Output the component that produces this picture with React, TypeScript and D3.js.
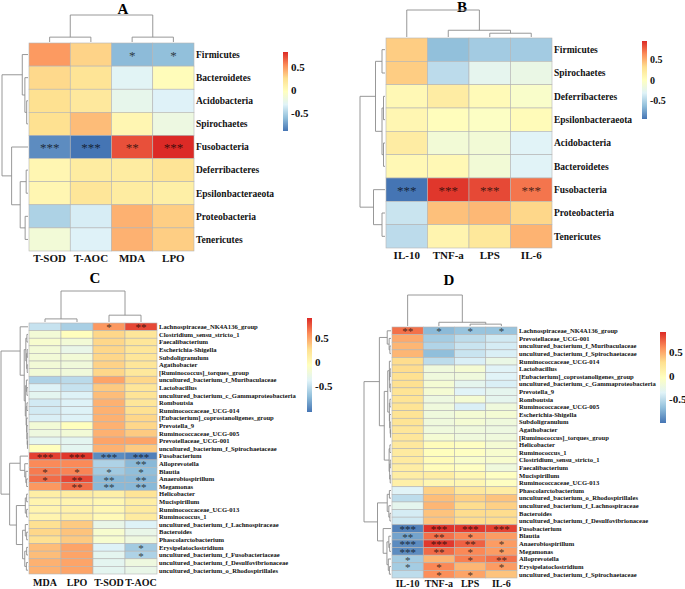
import * as d3 from 'd3';

// ---- Panel A: phyla vs oxidative markers ----
const rowsA = ["Firmicutes", "Bacteroidetes", "Acidobacteria", "Spirochaetes", "Fusobacteria",
  "Deferribacteres", "Epsilonbacteraeota", "Proteobacteria", "Tenericutes"];
const colsA = ["T-SOD", "T-AOC", "MDA", "LPO"];
const valuesA = [
  [0.5, 0.3, -0.62, -0.6],
  [0.28, 0.22, -0.3, 0.0],
  [0.25, 0.18, -0.25, -0.32],
  [0.25, 0.38, 0.05, -0.2],
  [-0.8, -0.89, 0.72, 0.83],
  [0.05, 0.15, 0.15, 0.22],
  [0.05, 0.2, 0.15, 0.12],
  [-0.5, -0.35, 0.42, 0.32],
  [-0.15, -0.32, 0.42, 0.32],
];
const starsA = [
  ["", "", "*", "*"], ["", "", "", ""], ["", "", "", ""], ["", "", "", ""],
  ["***", "***", "**", "***"], ["", "", "", ""], ["", "", "", ""], ["", "", "", ""], ["", "", "", ""],
];

// ---- Panel B: phyla vs inflammatory markers ----
const rowsB = ["Firmicutes", "Spirochaetes", "Deferribacteres", "Epsilonbacteraeota", "Acidobacteria",
  "Bacteroidetes", "Fusobacteria", "Proteobacteria", "Tenericutes"];
const colsB = ["IL-10", "TNF-a", "LPS", "IL-6"];
const valuesB = [
  [0.4, -0.62, -0.55, -0.55],
  [0.4, -0.45, -0.25, -0.2],
  [0.08, 0.2, 0.06, -0.05],
  [0.1, 0.03, -0.02, 0.05],
  [0.2, -0.12, -0.12, -0.3],
  [0.08, 0.08, -0.12, -0.3],
  [-0.94, 0.92, 0.86, 0.72],
  [-0.4, 0.45, 0.48, 0.36],
  [-0.45, 0.12, 0.25, 0.5],
];
const starsB = [
  ["", "", "", ""], ["", "", "", ""], ["", "", "", ""], ["", "", "", ""], ["", "", "", ""], ["", "", "", ""],
  ["***", "***", "***", "***"], ["", "", "", ""], ["", "", "", ""],
];

// ---- Panel C: genera vs oxidative markers ----
const rowsC = ["Lachnospiraceae_NK4A136_group", "Clostridium_sensu_stricto_1", "Faecalibacterium",
  "Escherichia-Shigella", "Subdoligranulum", "Agathobacter", "[Ruminococcus]_torques_group",
  "uncultured_bacterium_f_Muribaculaceae", "Lactobacillus", "uncultured_bacterium_c_Gammaproteobacteria",
  "Romboutsia", "Ruminococcaceae_UCG-014", "[Eubacterium]_coprostanoligenes_group", "Prevotella_9",
  "Ruminococcaceae_UCG-005", "Prevotellaceae_UCG-001", "uncultured_bacterium_f_Spirochaetaceae",
  "Fusobacterium", "Alloprevotella", "Blautia", "Anaerobiospirillum", "Megamonas", "Helicobacter",
  "Mucispirillum", "Ruminococcaceae_UCG-013", "Ruminococcus_1", "uncultured_bacterium_f_Lachnospiraceae",
  "Bacteroides", "Phascolarctobacterium", "Erysipelatoclostridium", "uncultured_bacterium_f_Fusobacteriaceae",
  "uncultured_bacterium_f_Desulfovibrionaceae", "uncultured_bacterium_o_Rhodospirillales"];
const colsC = ["MDA", "LPO", "T-SOD", "T-AOC"];
const valuesC = [
  [-0.5, -0.62, 0.55, 0.82],
  [-0.2, -0.05, 0.3, 0.2],
  [-0.15, -0.2, 0.3, 0.2],
  [-0.2, -0.3, 0.3, 0.2],
  [-0.2, -0.2, 0.3, 0.2],
  [-0.2, -0.22, 0.32, 0.2],
  [-0.2, -0.22, 0.3, 0.18],
  [-0.6, -0.55, 0.5, 0.3],
  [-0.4, -0.5, 0.35, 0.2],
  [-0.35, -0.4, 0.4, 0.22],
  [-0.45, -0.4, 0.45, 0.2],
  [-0.45, -0.4, 0.45, 0.25],
  [-0.42, -0.4, 0.45, 0.3],
  [-0.2, -0.05, 0.45, 0.3],
  [-0.25, -0.2, 0.45, 0.35],
  [-0.35, -0.35, 0.5, 0.5],
  [-0.05, -0.35, 0.45, 0.35],
  [0.85, 0.88, -0.95, -1.0],
  [0.6, 0.6, -0.6, -0.75],
  [0.65, 0.62, -0.65, -0.72],
  [0.7, 0.82, -0.75, -0.75],
  [0.55, 0.7, -0.75, -0.75],
  [0.12, 0.15, 0.1, 0.22],
  [0.05, 0.05, 0.02, 0.12],
  [0.05, 0.08, 0.02, 0.15],
  [0.05, 0.1, 0.0, 0.15],
  [0.25, 0.35, -0.3, -0.4],
  [0.3, 0.38, -0.15, -0.3],
  [0.25, 0.35, -0.15, -0.25],
  [0.4, 0.5, -0.4, -0.65],
  [0.4, 0.5, -0.35, -0.6],
  [0.45, 0.5, -0.35, -0.25],
  [0.45, 0.5, -0.35, -0.3],
];
const starsC: Record<number, string[]> = {
  0: ["", "", "*", "**"],
  17: ["***", "***", "***", "***"],
  18: ["", "", "", "**"],
  19: ["*", "*", "*", "*"],
  20: ["*", "**", "**", "**"],
  21: ["", "**", "**", "**"],
  29: ["", "", "", "*"],
  30: ["", "", "", "*"],
};

// ---- Panel D: genera vs inflammatory markers ----
const rowsD = ["Lachnospiraceae_NK4A136_group", "Prevotellaceae_UCG-001", "uncultured_bacterium_f_Muribaculaceae",
  "uncultured_bacterium_f_Spirochaetaceae", "Ruminococcaceae_UCG-014", "Lactobacillus",
  "[Eubacterium]_coprostanoligenes_group", "uncultured_bacterium_c_Gammaproteobacteria", "Prevotella_9",
  "Romboutsia", "Ruminococcaceae_UCG-005", "Escherichia-Shigella", "Subdoligranulum", "Agathobacter",
  "[Ruminococcus]_torques_group", "Helicobacter", "Ruminococcus_1", "Clostridium_sensu_stricto_1",
  "Faecalibacterium", "Mucispirillum", "Ruminococcaceae_UCG-013", "Phascolarctobacterium",
  "uncultured_bacterium_o_Rhodospirillales", "uncultured_bacterium_f_Lachnospiraceae", "Bacteroides",
  "uncultured_bacterium_f_Desulfovibrionaceae", "Fusobacterium", "Blautia", "Anaerobiospirillum",
  "Megamonas", "Alloprevotella", "Erysipelatoclostridium", "uncultured_bacterium_f_Spirochaetaceae"];
const colsD = ["IL-10", "TNF-a", "LPS", "IL-6"];
const valuesD = [
  [0.7, -0.7, -0.65, -0.65],
  [0.5, -0.6, -0.5, -0.42],
  [0.45, -0.55, -0.45, -0.4],
  [0.45, -0.68, -0.45, -0.38],
  [0.3, -0.5, -0.38, -0.25],
  [0.3, -0.2, -0.15, -0.35],
  [0.28, -0.2, -0.2, -0.35],
  [0.28, -0.15, -0.3, -0.38],
  [0.25, -0.15, -0.35, -0.3],
  [0.25, -0.22, -0.15, -0.3],
  [0.25, -0.2, -0.38, -0.2],
  [0.25, -0.2, -0.15, -0.15],
  [0.25, -0.2, -0.15, -0.2],
  [0.22, -0.2, -0.2, -0.22],
  [0.22, -0.15, -0.2, -0.2],
  [0.2, 0.0, -0.05, -0.15],
  [0.18, -0.02, -0.05, -0.12],
  [0.18, 0.0, -0.1, -0.12],
  [0.15, 0.0, -0.05, -0.2],
  [0.15, 0.15, 0.05, -0.05],
  [0.12, 0.05, 0.05, -0.05],
  [-0.35, 0.35, 0.2, 0.15],
  [-0.5, 0.42, 0.35, 0.4],
  [-0.3, 0.45, 0.3, 0.35],
  [-0.4, 0.4, 0.3, 0.3],
  [-0.42, 0.4, 0.3, 0.3],
  [-0.95, 0.9, 0.88, 0.85],
  [-0.8, 0.7, 0.62, 0.55],
  [-0.9, 0.88, 0.75, 0.55],
  [-0.9, 0.72, 0.62, 0.55],
  [-0.6, 0.45, 0.65, 0.7],
  [-0.6, 0.62, 0.45, 0.55],
  [-0.5, 0.6, 0.52, 0.4],
];
const starsD: Record<number, string[]> = {
  0: ["**", "*", "*", "*"],
  26: ["***", "***", "***", "***"],
  27: ["**", "**", "*", ""],
  28: ["***", "***", "**", "*"],
  29: ["***", "**", "*", "*"],
  30: ["*", "", "*", "**"],
  31: ["*", "*", "", "*"],
  32: ["", "*", "*", ""],
};

// cluster trees: leaf = row/col index, node = [merge height, left, right]
type Tree = number | [number, Tree, Tree];
const rowTreeA: Tree = [1, [0.22, 0, [0.12, 1, [0.05, 2, 3]]], [0.63, 4, [0.3, [0.07, 5, 6], [0.11, 7, 8]]]];
const colTreeA: Tree = [1, [0.18, 0, 1], [0.18, 2, 3]];
const rowTreeB: Tree = [1, [0.38, [0.12, 0, 1], [0.12, [0.06, 2, 3], [0.06, 4, 5]]], [0.46, 6, [0.12, 7, 8]]];
const colTreeB: Tree = [1, 0, [0.25, 1, [0.14, 2, 3]]];
const rowTreeC: Tree = [1,
  [0.29, 0, [0.14,
    [0.08, [0.04, 1, 2], [0.05, [0.03, 3, 4], [0.03, 5, 6]]],
    [0.1, [0.06, 7, [0.04, 8, 9]], [0.07, [0.04, 10, 11], [0.05, 12, [0.04, 13, [0.03, 14, [0.02, 15, 16]]]]]]]],
  [0.68,
    [0.29, 17, [0.12, 18, [0.08, 19, [0.05, 20, 21]]]],
    [0.43, [0.1, [0.05, 22, 23], [0.05, 24, 25]], [0.2, [0.1, 26, [0.05, 27, 28]], [0.12, [0.05, 29, 30], [0.06, 31, 32]]]]]];
const colTreeC: Tree = [1, [0.1, 0, 1], [0.22, 2, 3]];
const rowTreeD: Tree = [1,
  [0.43,
    [0.14, 0, [0.07, 1, [0.04, 2, 3]]],
    [0.25,
      [0.12, [0.06, 4, [0.05, [0.03, 5, 6], [0.03, 7, 8]]], [0.06, [0.04, 9, 10], [0.05, 11, [0.03, 12, [0.02, 13, 14]]]]],
      [0.07, [0.04, 15, 16], [0.05, [0.03, 17, 18], [0.03, 19, 20]]]]],
  [0.5,
    [0.14, [0.06, 21, 22], [0.08, 23, [0.04, 24, 25]]],
    [0.29, 26, [0.15, [0.08, 27, [0.05, 28, 29]], [0.1, 30, [0.06, 31, 32]]]]]];
const colTreeD: Tree = [1, 0, [0.12, 1, [0.06, 2, 3]]];

const palette = ["#4575B4", "#91BFDB", "#E0F3F8", "#FFFFBF", "#FEE090", "#FC8D59", "#DC2A26"];
const FONT = "'Liberation Serif', 'Times New Roman', serif";

type Seg = [number, number, number, number];
function walk(node: Tree, segs: Seg[]): { p: number; h: number } {
  if (typeof node === "number") return { p: node, h: 0 };
  const [h, a, b] = node;
  const A = walk(a, segs), B = walk(b, segs);
  segs.push([A.p, A.h, A.p, h], [B.p, B.h, B.p, h], [A.p, h, B.p, h]);
  return { p: (A.p + B.p) / 2, h };
}

type PanelProps = {
  title: string; titleX: number; titleY: number;
  rows: string[]; cols: string[]; values: number[][]; stars: Record<number, string[]> | string[][];
  rowTree: Tree; colTree: Tree;
  left: number; top: number; width: number; height: number;
  rowRootX: number; colRootY: number;
  labelSize: number; colLabelSize: number; colLabelY: number; starSize: number;
  lo: number; hi: number; barX: number; barY: number; barW: number; barH: number; barFont: number;
};

function Panel(p: PanelProps) {
  const x = d3.scaleBand<number>().domain(d3.range(p.cols.length)).range([p.left, p.left + p.width]);
  const y = d3.scaleBand<number>().domain(d3.range(p.rows.length)).range([p.top, p.top + p.height]);
  const color = d3.scaleLinear<string>()
    .domain(d3.range(7).map(i => p.lo + (p.hi - p.lo) * i / 6))
    .range(palette).interpolate(d3.interpolateRgb);

  const rowSegs: Seg[] = [];
  walk(p.rowTree, rowSegs);
  const rh = d3.scaleLinear().domain([0, 1]).range([p.left - 1, p.rowRootX]);
  const rp = (i: number) => p.top + (i + 0.5) * y.bandwidth();
  const colSegs: Seg[] = [];
  walk(p.colTree, colSegs);
  const ch = d3.scaleLinear().domain([0, 1]).range([p.top - 1, p.colRootY]);
  const cp = (i: number) => p.left + (i + 0.5) * x.bandwidth();

  const bar = d3.scaleLinear().domain([p.lo, p.hi]).range([p.barY + p.barH, p.barY]);
  const gid = "grad" + p.title;

  return (
    <g>
      <text x={p.titleX} y={p.titleY} textAnchor="middle" fontFamily={FONT} fontWeight="bold" fontSize={15}>{p.title}</text>
      {p.values.map((row, i) => row.map((v, j) => (
        <rect key={`c${i}-${j}`} x={x(j)} y={y(i)} width={x.bandwidth()} height={y.bandwidth()}
          fill={color(v)} stroke="#b4b4b4" strokeWidth={0.6} />
      )))}
      {p.values.map((row, i) => row.map((v, j) => {
        const s = (p.stars as any)[i]?.[j];
        if (!s) return null;
        return (
          <text key={`s${i}-${j}`} x={x(j)! + x.bandwidth() / 2} y={y(i)! + y.bandwidth() / 2 + p.starSize * 0.42}
            textAnchor="middle" fontFamily={FONT} fontSize={p.starSize}
            fill={d3.color(color(v))!.darker(3.2).formatHex()}>{s}</text>
        );
      }))}
      {rowSegs.map((s, k) => (
        <line key={`r${k}`} x1={rh(s[1])} y1={rp(s[0])} x2={rh(s[3])} y2={rp(s[2])} stroke="#8c8c8c" strokeWidth={0.9} />
      ))}
      {colSegs.map((s, k) => (
        <line key={`k${k}`} x1={cp(s[0])} y1={ch(s[1])} x2={cp(s[2])} y2={ch(s[3])} stroke="#8c8c8c" strokeWidth={0.9} />
      ))}
      {p.rows.map((r, i) => (
        <text key={`l${i}`} x={p.left + p.width + 2} y={y(i)! + y.bandwidth() / 2} dy="0.35em"
          fontFamily={FONT} fontWeight="bold" fontSize={p.labelSize} fill="#111">{r}</text>
      ))}
      {p.cols.map((c, j) => (
        <text key={`h${j}`} x={x(j)! + x.bandwidth() / 2} y={p.colLabelY} textAnchor="middle"
          fontFamily={FONT} fontWeight="bold" fontSize={p.colLabelSize} fill="#111">{c}</text>
      ))}
      <defs>
        <linearGradient id={gid} x1="0" y1="1" x2="0" y2="0">
          {palette.map((c, k) => <stop key={k} offset={k / 6} stopColor={c} />)}
        </linearGradient>
      </defs>
      <rect x={p.barX} y={p.barY} width={p.barW} height={p.barH} fill={`url(#${gid})`} />
      {[0.5, 0, -0.5].map(t => (
        <text key={`t${t}`} x={p.barX + p.barW + 3} y={bar(t)} dy="0.35em" fontFamily={FONT}
          fontWeight="bold" fontSize={p.barFont} fill="#111">{t === 0 ? "0" : String(t)}</text>
      ))}
    </g>
  );
}

export default function App() {
  return (
    <svg width={685} height={589} style={{ position: "absolute", left: 0, top: 0, background: "#fff" }}>
      <rect width={685} height={589} fill="#fff" />
      <Panel title="A" titleX={123} titleY={14} rows={rowsA} cols={colsA} values={valuesA} stars={starsA}
        rowTree={rowTreeA} colTree={colTreeA} left={29} top={43} width={165} height={208}
        rowRootX={2} colRootY={15} labelSize={9.5} colLabelSize={11} colLabelY={262} starSize={13}
        lo={-0.89} hi={0.83} barX={283} barY={52} barW={5} barH={79} barFont={11} />
      <Panel title="B" titleX={462} titleY={12} rows={rowsB} cols={colsB} values={valuesB} stars={starsB}
        rowTree={rowTreeB} colTree={colTreeB} left={386} top={38} width={166} height={210}
        rowRootX={360} colRootY={10} labelSize={9.5} colLabelSize={11} colLabelY={259} starSize={13}
        lo={-0.94} hi={0.96} barX={642} barY={41} barW={5} barH={78} barFont={10} />
      <Panel title="C" titleX={95} titleY={283} rows={rowsC} cols={colsC} values={valuesC} stars={starsC}
        rowTree={rowTreeC} colTree={colTreeC} left={29} top={323} width={128} height={251}
        rowRootX={1} colRootY={291} labelSize={6.6} colLabelSize={10} colLabelY={586} starSize={11}
        lo={-1.05} hi={0.92} barX={307} barY={318} barW={5} barH={94} barFont={11} />
      <Panel title="D" titleX={449} titleY={285} rows={rowsD} cols={colsD} values={valuesD} stars={starsD}
        rowTree={rowTreeD} colTree={colTreeD} left={392} top={327} width={125} height={251}
        rowRootX={364} colRootY={295} labelSize={6.6} colLabelSize={10} colLabelY={587} starSize={11}
        lo={-1.0} hi={0.93} barX={660} barY={332} barW={6} barH={91} barFont={11} />
    </svg>
  );
}
